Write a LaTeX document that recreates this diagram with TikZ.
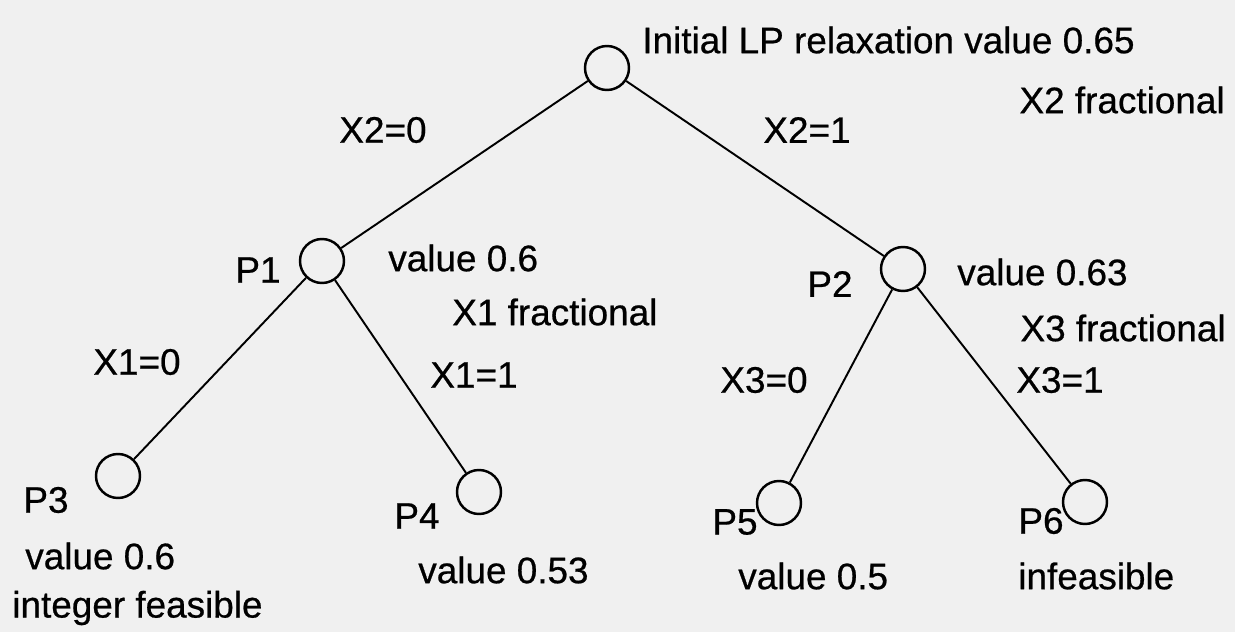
\documentclass[tikz,border=0pt]{standalone}
\usepackage{fontspec}
\setmainfont{Liberation Sans}
\newfontfamily\bbfont[FakeBold=0.6]{Liberation Sans}
\tikzset{
  bbnode/.style={circle,draw,line width=1.4pt,minimum size=0.88cm,inner sep=0pt},
  bbtext/.style={inner sep=0pt,font=\bbfont\fontsize{21}{25}\selectfont}
}
\begin{document}
\begin{tikzpicture}[x=0.02cm,y=-0.02cm]
\fill[black!6] (0,0) rectangle (1235,632);
\useasboundingbox (0,0) rectangle (1235,632);

\node[bbnode] (root) at (607,68) {};
\node[bbnode] (p1) at (322,261) {};
\node[bbnode] (p2) at (903,269) {};
\node[bbnode] (p3) at (118,476) {};
\node[bbnode] (p4) at (479,492) {};
\node[bbnode] (p5) at (779,503) {};
\node[bbnode] (p6) at (1085,502) {};

\draw[line width=1.1pt] (root) -- (p1);
\draw[line width=1.1pt] (root) -- (p2);
\draw[line width=1.1pt] (p1) -- (p3);
\draw[line width=1.1pt] (p1) -- (p4);
\draw[line width=1.1pt] (p2) -- (p5);
\draw[line width=1.1pt] (p2) -- (p6);

\node[bbtext,anchor=west] (rootval) at (642,40) {Initial LP relaxation value 0.65};
\node[bbtext,anchor=east] (rootfrac) at (1225,100) {X2 fractional};
\node[bbtext] (x2zero) at (383,130) {X2=0};
\node[bbtext] (x2one) at (807,130) {X2=1};

\node[bbtext] (p1name) at (258,270) {P1};
\node[bbtext,anchor=west] (p1val) at (388,258) {value 0.6};
\node[bbtext,anchor=west] (p1frac) at (452,312) {X1 fractional};
\node[bbtext] (x1zero) at (137,362) {X1=0};
\node[bbtext] (x1one) at (474,375) {X1=1};

\node[bbtext] (p2name) at (830,284) {P2};
\node[bbtext,anchor=west] (p2val) at (957,272) {value 0.63};
\node[bbtext,anchor=east] (p2frac) at (1226,328) {X3 fractional};
\node[bbtext] (x3zero) at (764,380) {X3=0};
\node[bbtext] (x3one) at (1060,380) {X3=1};

\node[bbtext] (p3name) at (46,500) {P3};
\node[bbtext,anchor=west] (p3val) at (25,556) {value 0.6};
\node[bbtext,anchor=west] (p3feas) at (12,608) {integer feasible};

\node[bbtext] (p4name) at (417,516) {P4};
\node[bbtext,anchor=west] (p4val) at (418,570) {value 0.53};

\node[bbtext] (p5name) at (735,522) {P5};
\node[bbtext,anchor=west] (p5val) at (738,576) {value 0.5};

\node[bbtext] (p6name) at (1041,521) {P6};
\node[bbtext,anchor=west] (p6val) at (1018,576) {infeasible};
\end{tikzpicture}
\end{document}
